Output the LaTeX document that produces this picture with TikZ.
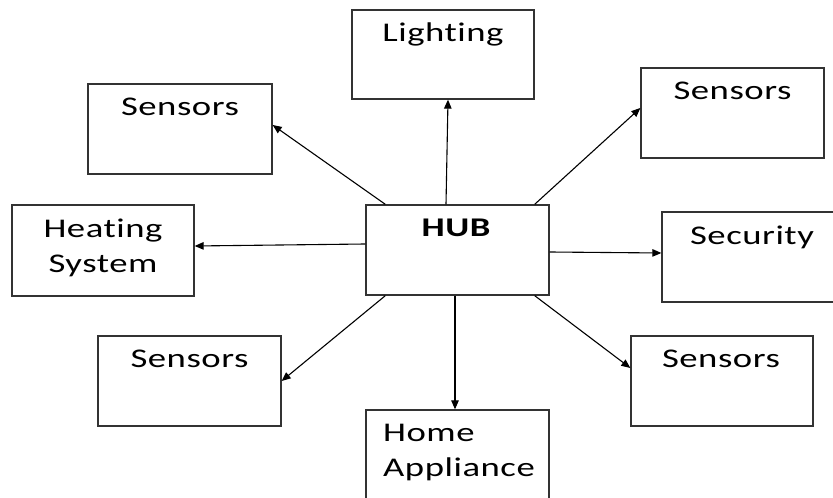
\documentclass[tikz,border=0pt]{standalone}
\usepackage{fontspec}
\setmainfont{Carlito}[FakeStretch=1.36,LetterSpace=2,RawFeature=-liga]
\usetikzlibrary{arrows.meta}
\begin{document}
\begin{tikzpicture}[x=1pt,y=1pt,
  box/.style={draw=black!80,line width=1.3pt,rectangle,inner sep=0pt,
              minimum width=#1,minimum height=90pt},
  box/.default=183pt,
  lbl/.style={anchor=base,inner sep=0pt,font=\fontsize{27}{35}\selectfont},
  conn/.style={draw=black,line width=1.1pt,-{Triangle[length=9pt,width=7.5pt]}}]
\useasboundingbox (0,0) rectangle (833,498);
\clip (0,0) rectangle (833,498);
\fill[white] (0,0) rectangle (833,498);

% boxes
\node[box=182pt,minimum height=89pt] (light) at (443,443.5) {};
\node[box=184pt] (s1)   at (180,369) {};
\node[box]       (s2)   at (732.5,385) {};
\node[box=182pt,minimum height=91pt] (heat) at (103,247.5) {};
\node[box]       (hub)  at (457.5,248) {};
\node[box=180pt] (sec)  at (752,241) {};
\node[box]       (s3)   at (189.5,117) {};
\node[box=182pt] (s4)   at (722,117) {};
\node[box]       (home) at (457.5,43) {};

% labels
\node[lbl] (tlight) at (443,456) {Lighting};
\node[lbl] (ts1) at (180,382) {Sensors};
\node[lbl] (ts2) at (732.5,398) {Sensors};
\node[lbl] (theat1) at (103,260) {Heating};
\node[lbl] (theat2) at (103,225) {System};
\node[lbl,font=\fontsize{27}{35}\selectfont\bfseries] (thub) at (456,261) {HUB};
\node[lbl] (tsec) at (752,253) {Security};
\node[lbl] (ts3) at (189.5,130) {Sensors};
\node[lbl] (ts4) at (721,130) {Sensors};
\node[lbl,anchor=base west] (thome1) at (383,56) {Home};
\node[lbl,anchor=base west] (thome2) at (383,21) {Appliance};

% connectors from the hub
\draw[conn] ([xshift=-11.5pt]hub.north) -- ([xshift=5pt]light.south);
\draw[conn] ([xshift=20pt]hub.north west) -- ([yshift=4pt]s1.east);
\draw[conn] ([xshift=-15pt]hub.north east) -- ([yshift=5pt]s2.west);
\draw[conn] ([yshift=6pt]hub.west) -- ([yshift=4.5pt]heat.east);
\draw[conn] ([yshift=-2pt]hub.east) -- ([yshift=4pt]sec.west);
\draw[conn] ([xshift=20pt]hub.south west) -- (s3.east);
\draw[conn] ([xshift=-15pt]hub.south east) -- ([yshift=13pt]s4.west);
\draw[conn] ([xshift=-2.5pt]hub.south) -- ([xshift=-2.5pt]home.north);
\end{tikzpicture}
\end{document}
